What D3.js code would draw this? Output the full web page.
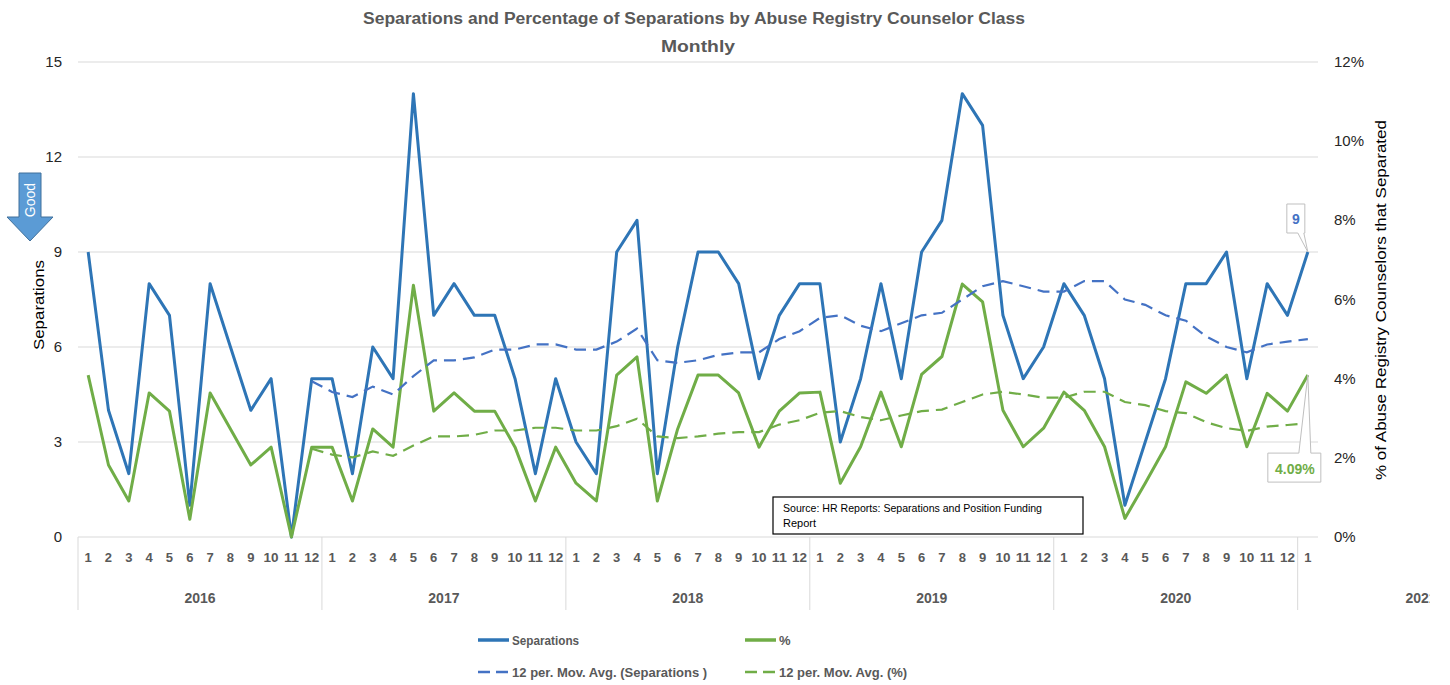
<!DOCTYPE html>
<html>
<head>
<meta charset="utf-8">
<script src="https://cdn.jsdelivr.net/npm/d3@7"></script>
<style>
  body { margin: 0; background: #fff; }
  text { font-family: "Liberation Sans", Arial, sans-serif; }
</style>
</head>
<body>
<svg width="1450" height="685"></svg>
<script>
// Data
const years = ["2016", "2017", "2018", "2019", "2020", "2021"];
const months = [1,2,3,4,5,6,7,8,9,10,11,12, 1,2,3,4,5,6,7,8,9,10,11,12,
    1,2,3,4,5,6,7,8,9,10,11,12, 1,2,3,4,5,6,7,8,9,10,11,12,
    1,2,3,4,5,6,7,8,9,10,11,12, 1];
const separations = [9,4,2,8,7,1,8,6,4,5,0,5, 5,2,6,5,14,7,8,7,7,5,2,5,
    3,2,9,10,2,6,9,9,8,5,7,8, 8,3,5,8,5,9,10,14,13,7,5,6,
    8,7,5,1,3,5,8,8,9,5,8,7, 9];
const pct = [4.09,1.82,0.91,3.64,3.18,0.45,3.64,2.73,1.82,2.27,0,2.27,
    2.27,0.91,2.73,2.27,6.36,3.18,3.64,3.18,3.18,2.27,0.91,2.27,
    1.36,0.91,4.09,4.55,0.91,2.73,4.09,4.09,3.64,2.27,3.18,3.64,
    3.66,1.36,2.28,3.66,2.28,4.11,4.56,6.39,5.94,3.2,2.28,2.75,
    3.66,3.2,2.28,0.47,1.36,2.28,3.92,3.63,4.09,2.28,3.63,3.18, 4.09];
// 12 per. moving averages (first 11 months have none)
const sepAvg = [null,null,null,null,null,null,null,null,null,null,null,
    4.92,4.58,4.42,4.75,4.5,5.08,5.58,5.58,5.67,5.92,5.92,6.08,6.08,
    5.92,5.92,6.17,6.58,5.58,5.5,5.58,5.75,5.83,5.83,6.25,6.5,
    6.92,7.0,6.67,6.5,6.75,7.0,7.08,7.5,7.92,8.08,7.92,7.75,
    7.75,8.08,8.08,7.5,7.33,7.0,6.83,6.33,6.0,5.83,6.08,6.17, 6.25];
const pctAvg = [null,null,null,null,null,null,null,null,null,null,null,
    2.23,2.08,2.01,2.16,2.05,2.31,2.54,2.54,2.58,2.69,2.69,2.76,2.76,
    2.69,2.69,2.80,2.99,2.54,2.50,2.54,2.61,2.65,2.65,2.84,2.95,
    3.14,3.18,3.03,2.95,3.07,3.18,3.22,3.41,3.60,3.67,3.60,3.52,
    3.52,3.67,3.67,3.41,3.33,3.18,3.13,2.90,2.75,2.68,2.79,2.83, 2.87];
const leftTicks = [0, 3, 6, 9, 12, 15];
const rightTicks = [0, 2, 4, 6, 8, 10, 12];

// Colors
const blue = "#2E75B6", blueAvg = "#4472C4", green = "#70AD47";

const svg = d3.select("svg");
const plotLeft = 78, plotRight = 1318, plotTop = 62, plotBottom = 537;

const x = d3.scaleBand().domain(d3.range(months.length)).range([plotLeft, plotRight]);
const cx = i => x(i) + x.bandwidth() / 2;
const yL = d3.scaleLinear().domain([0, 15]).range([plotBottom, plotTop]);
const yR = d3.scaleLinear().domain([0, 12]).range([plotBottom, plotTop]);

// Title
svg.append("text").attr("x", 694).attr("y", 24).attr("text-anchor", "middle")
    .attr("font-size", 16).attr("font-weight", "bold").attr("fill", "#595959")
    .attr("textLength", 662).attr("lengthAdjust", "spacingAndGlyphs")
    .text("Separations and Percentage of Separations by Abuse Registry Counselor Class");
svg.append("text").attr("x", 698).attr("y", 52).attr("text-anchor", "middle")
    .attr("font-size", 16).attr("font-weight", "bold").attr("fill", "#595959")
    .attr("textLength", 74).attr("lengthAdjust", "spacingAndGlyphs")
    .text("Monthly");

// Gridlines
svg.append("g").selectAll("line").data(leftTicks).join("line")
    .attr("x1", plotLeft).attr("x2", plotRight)
    .attr("y1", d => yL(d)).attr("y2", d => yL(d))
    .attr("stroke", "#d9d9d9").attr("stroke-width", 1);

// Left axis labels
svg.append("g").selectAll("text").data(leftTicks).join("text")
    .attr("x", 62).attr("y", d => yL(d) + 5).attr("text-anchor", "end")
    .attr("font-size", 15).attr("fill", "#262626").text(d => d);

// Right axis labels
svg.append("g").selectAll("text").data(rightTicks).join("text")
    .attr("x", 1334).attr("y", d => yR(d) + 5)
    .attr("font-size", 15).attr("fill", "#262626").text(d => d + "%");

// Axis titles
svg.append("text").attr("transform", "translate(44,305) rotate(-90)")
    .attr("text-anchor", "middle").attr("font-size", 15).attr("fill", "#000")
    .attr("textLength", 90).attr("lengthAdjust", "spacingAndGlyphs")
    .text("Separations");
svg.append("text").attr("transform", "translate(1386,300) rotate(-90)")
    .attr("text-anchor", "middle").attr("font-size", 15).attr("fill", "#000")
    .attr("textLength", 360).attr("lengthAdjust", "spacingAndGlyphs")
    .text("% of Abuse Registry Counselors that Separated");

// Category axis: months and years
svg.append("g").selectAll("text").data(months).join("text")
    .attr("x", (d, i) => cx(i)).attr("y", 562).attr("text-anchor", "middle")
    .attr("font-size", 13).attr("font-weight", "bold").attr("fill", "#595959")
    .attr("textLength", d => d > 9 ? 15 : null).attr("lengthAdjust", "spacingAndGlyphs")
    .text(d => d);

svg.append("g").selectAll("line").data(years).join("line")
    .attr("x1", (d, i) => x(i * 12)).attr("x2", (d, i) => x(i * 12))
    .attr("y1", plotBottom).attr("y2", 610)
    .attr("stroke", "#d9d9d9");

svg.append("defs").append("clipPath").attr("id", "chartClip")
    .append("rect").attr("x", 0).attr("y", 0).attr("width", 1430).attr("height", 685);

svg.append("g").attr("clip-path", "url(#chartClip)")
    .selectAll("text").data(years).join("text")
    .attr("x", (d, i) => i < 5 ? x(i * 12) + x.bandwidth() * 6 : 1421)
    .attr("y", 603).attr("text-anchor", "middle")
    .attr("font-size", 14).attr("font-weight", "bold").attr("fill", "#595959")
    .text(d => d);

// Source box
svg.append("rect").attr("x", 773).attr("y", 497).attr("width", 310).attr("height", 37)
    .attr("fill", "#fff").attr("stroke", "#000").attr("stroke-width", 1.2);
svg.append("text").attr("x", 783).attr("y", 512).attr("font-size", 11).attr("fill", "#000")
    .attr("textLength", 259).attr("lengthAdjust", "spacingAndGlyphs")
    .text("Source: HR Reports: Separations and Position Funding");
svg.append("text").attr("x", 783).attr("y", 527).attr("font-size", 11).attr("fill", "#000")
    .text("Report");

// Lines
const line = (yScale) => d3.line()
    .defined(d => d != null)
    .x((d, i) => cx(i))
    .y(d => yScale(d));

svg.append("path").datum(separations)
    .attr("d", line(yL)).attr("fill", "none")
    .attr("stroke", blue).attr("stroke-width", 3).attr("stroke-linejoin", "round");
svg.append("path").datum(pct)
    .attr("d", line(yR)).attr("fill", "none")
    .attr("stroke", green).attr("stroke-width", 3).attr("stroke-linejoin", "round");
svg.append("path").datum(sepAvg)
    .attr("d", line(yL)).attr("fill", "none")
    .attr("stroke", blueAvg).attr("stroke-width", 2.2).attr("stroke-dasharray", "12,7");
svg.append("path").datum(pctAvg)
    .attr("d", line(yR)).attr("fill", "none")
    .attr("stroke", green).attr("stroke-width", 2.2).attr("stroke-dasharray", "12,7");

// Callouts on the last month
const last = months.length - 1;
const px = cx(last);
const py9 = yL(separations[last]);
svg.append("path")
    .attr("d", `M${px - 21},${py9 - 48} H${px - 3} V${py9 - 19} H${px - 4} L${px},${py9} L${px - 10},${py9 - 19} H${px - 21} Z`)
    .attr("fill", "#fff").attr("stroke", "#bfbfbf");
svg.append("text").attr("x", px - 12).attr("y", py9 - 28).attr("text-anchor", "middle")
    .attr("font-size", 14).attr("font-weight", "bold").attr("fill", blueAvg)
    .text(separations[last]);

const pyP = yR(pct[last]);
svg.append("path")
    .attr("d", `M${px - 40},${pyP + 107} V${pyP + 78} H${px - 9} L${px},${pyP} L${px + 3},${pyP + 78} H${px + 13} V${pyP + 107} Z`)
    .attr("fill", "#fff").attr("stroke", "#bfbfbf");
svg.append("text").attr("x", px - 13).attr("y", pyP + 99).attr("text-anchor", "middle")
    .attr("font-size", 14).attr("font-weight", "bold").attr("fill", green)
    .text(pct[last].toFixed(2) + "%");

// "Good" arrow
svg.append("path")
    .attr("d", "M19,173 H41 V217 H53 L30,241 L7,217 H19 Z")
    .attr("fill", "#5B9BD5").attr("stroke", "#41719C").attr("stroke-width", 1);
svg.append("text").attr("transform", "translate(35,200) rotate(-90)")
    .attr("text-anchor", "middle").attr("font-size", 14).attr("fill", "#fff")
    .text("Good");

// Legend
const legendItems = [
    { label: "Separations", color: blue, dash: null, x: 478, y: 640 },
    { label: "%", color: green, dash: null, x: 745, y: 640 },
    { label: "12 per. Mov. Avg. (Separations )", color: blueAvg, dash: "12,6", x: 478, y: 672 },
    { label: "12 per. Mov. Avg. (%)", color: green, dash: "12,6", x: 745, y: 672 }
];
const legend = svg.append("g").selectAll("g").data(legendItems).join("g")
    .attr("transform", d => `translate(${d.x},${d.y})`);
legend.append("line").attr("x1", 0).attr("x2", 31).attr("y1", 0).attr("y2", 0)
    .attr("stroke", d => d.color).attr("stroke-width", d => d.dash ? 2.5 : 3.5)
    .attr("stroke-dasharray", d => d.dash);
legend.append("text").attr("x", 34).attr("y", 5)
    .attr("font-size", 13).attr("font-weight", "bold").attr("fill", "#595959")
    .attr("textLength", d => d.label.length > 1 ? d.label.length * 6.1 : null)
    .attr("lengthAdjust", "spacingAndGlyphs")
    .text(d => d.label);
</script>
</body>
</html>
